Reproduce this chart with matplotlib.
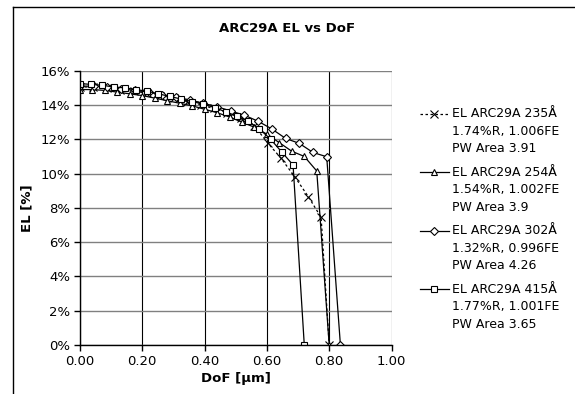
import matplotlib
matplotlib.use("Agg")
import matplotlib.pyplot as plt
from matplotlib.lines import Line2D
from matplotlib.legend_handler import HandlerLine2D
from matplotlib.ticker import FuncFormatter, MultipleLocator

# ---- data ----
labels = [
    "EL ARC29A 235Å\n1.74%R, 1.006FE\nPW Area 3.91",
    "EL ARC29A 254Å\n1.54%R, 1.002FE\nPW Area 3.9",
    "EL ARC29A 302Å\n1.32%R, 0.996FE\nPW Area 4.26",
    "EL ARC29A 415Å\n1.77%R, 1.001FE\nPW Area 3.65",
]

x_235 = [0, 0.043, 0.086, 0.129, 0.172, 0.215, 0.258, 0.301, 0.344, 0.387,
         0.43, 0.473, 0.516, 0.559, 0.602, 0.645, 0.69, 0.733, 0.774, 0.80]
y_235 = [15.05, 15.05, 15.0, 14.9, 14.8, 14.7, 14.55, 14.4, 14.2, 14.0,
         13.8, 13.55, 13.25, 12.8, 11.8, 10.9, 9.8, 8.65, 7.45, 0.0]

x_254 = [0, 0.04, 0.08, 0.12, 0.16, 0.20, 0.24, 0.28, 0.32, 0.36, 0.40,
         0.44, 0.48, 0.52, 0.56, 0.60, 0.64, 0.68, 0.72, 0.76, 0.80]
y_254 = [14.9, 14.9, 14.85, 14.75, 14.65, 14.55, 14.4, 14.25, 14.1, 13.95, 13.75,
         13.55, 13.3, 13.0, 12.7, 12.3, 11.8, 11.3, 11.0, 10.15, 0.0]

x_302 = [0, 0.044, 0.088, 0.132, 0.176, 0.22, 0.264, 0.308, 0.352, 0.396,
         0.44, 0.484, 0.528, 0.572, 0.616, 0.66, 0.704, 0.748, 0.792, 0.836]
y_302 = [15.1, 15.1, 15.05, 14.95, 14.85, 14.75, 14.6, 14.45, 14.3, 14.1,
         13.9, 13.65, 13.4, 13.05, 12.6, 12.05, 11.76, 11.23, 10.98, 0.0]

x_415 = [0, 0.036, 0.072, 0.108, 0.144, 0.18, 0.216, 0.252, 0.288, 0.324, 0.36,
         0.396, 0.432, 0.468, 0.504, 0.54, 0.576, 0.612, 0.648, 0.684, 0.72]
y_415 = [15.25, 15.2, 15.15, 15.05, 15.0, 14.9, 14.8, 14.65, 14.5, 14.35, 14.2,
         14.05, 13.85, 13.6, 13.35, 13.05, 12.6, 12.0, 11.25, 10.5, 0.0]

title = "ARC29A EL vs DoF"
xlabel = "DoF [µm]"
ylabel = "EL [%]"

# ---- figure ----
W, H = 575, 394
fig = plt.figure(figsize=(W / 100, H / 100), dpi=100)
fig.patch.set_facecolor("white")

left, right, top, bottom = 80, 391.5, 70.7, 345
ax = fig.add_axes([left / W, 1 - bottom / H, (right - left) / W, (bottom - top) / H])

common = dict(color="black", linewidth=0.9, markersize=5, markerfacecolor="white",
              markeredgecolor="black", markeredgewidth=0.8)
ax.plot(x_235, y_235, linestyle=(0, (2, 2)), marker="x", label=labels[0],
        **{**common, "markersize": 6})
ax.plot(x_254, y_254, linestyle="-", marker="^", label=labels[1], **common)
ax.plot(x_302, y_302, linestyle="-", marker="D", label=labels[2],
        **{**common, "markersize": 4})
ax.plot(x_415, y_415, linestyle="-", marker="s", label=labels[3], **common)

ax.set_xlim(0, 1.0)
ax.set_ylim(0, 16)
ax.xaxis.set_major_locator(MultipleLocator(0.2))
ax.yaxis.set_major_locator(MultipleLocator(2))
ax.xaxis.set_major_formatter(FuncFormatter(lambda v, p: f"{v:.2f}"))
ax.yaxis.set_major_formatter(FuncFormatter(lambda v, p: f"{v:.0f}%"))

ax.grid(axis="y", color="#808080", linewidth=1.0)
ax.grid(axis="x", color="black", linewidth=0.8)
ax.set_axisbelow(True)
for s in ["top", "right"]:
    ax.spines[s].set_visible(False)
ax.spines["left"].set_linewidth(1.0)
ax.spines["bottom"].set_linewidth(1.0)
ax.tick_params(direction="out", length=4, width=1, labelsize=9.5, pad=3)

ax.set_xlabel(xlabel, fontsize=9.5, fontweight="bold", labelpad=3)
ax.set_ylabel(ylabel, fontsize=9.5, fontweight="bold", labelpad=5)

fig.text(287 / W, 1 - 28 / H, title, ha="center", va="center",
         fontsize=9.5, fontweight="bold")

LEG_FS = 9


class TopHandler(HandlerLine2D):
    def create_artists(self, legend, orig_handle, xdescent, ydescent, width,
                       height, fontsize, trans):
        arts = super().create_artists(legend, orig_handle, xdescent, ydescent,
                                      width, height, fontsize, trans)
        for a in arts:
            a.set_ydata([y + 1.45 * fontsize for y in a.get_ydata()])
        return arts


leg = ax.legend(loc="upper left", bbox_to_anchor=(420 / W, 1 - 107 / H),
                bbox_transform=fig.transFigure, frameon=False, fontsize=LEG_FS,
                handlelength=2.3, handletextpad=0.25, labelspacing=0.85,
                borderaxespad=0, borderpad=0, numpoints=1,
                handler_map={Line2D: TopHandler()})
for t in leg.get_texts():
    t.set_linespacing(1.45)

# chart-area border (left and top edges visible in the crop)
fig.add_artist(Line2D([12.5 / W, 12.5 / W], [-0.1, 1 - 7 / H], transform=fig.transFigure,
                      color="black", linewidth=1.0))
fig.add_artist(Line2D([12.5 / W, 1.2], [1 - 7 / H, 1 - 7 / H], transform=fig.transFigure,
                      color="black", linewidth=1.0))

fig.savefig("out.png", dpi=100)
